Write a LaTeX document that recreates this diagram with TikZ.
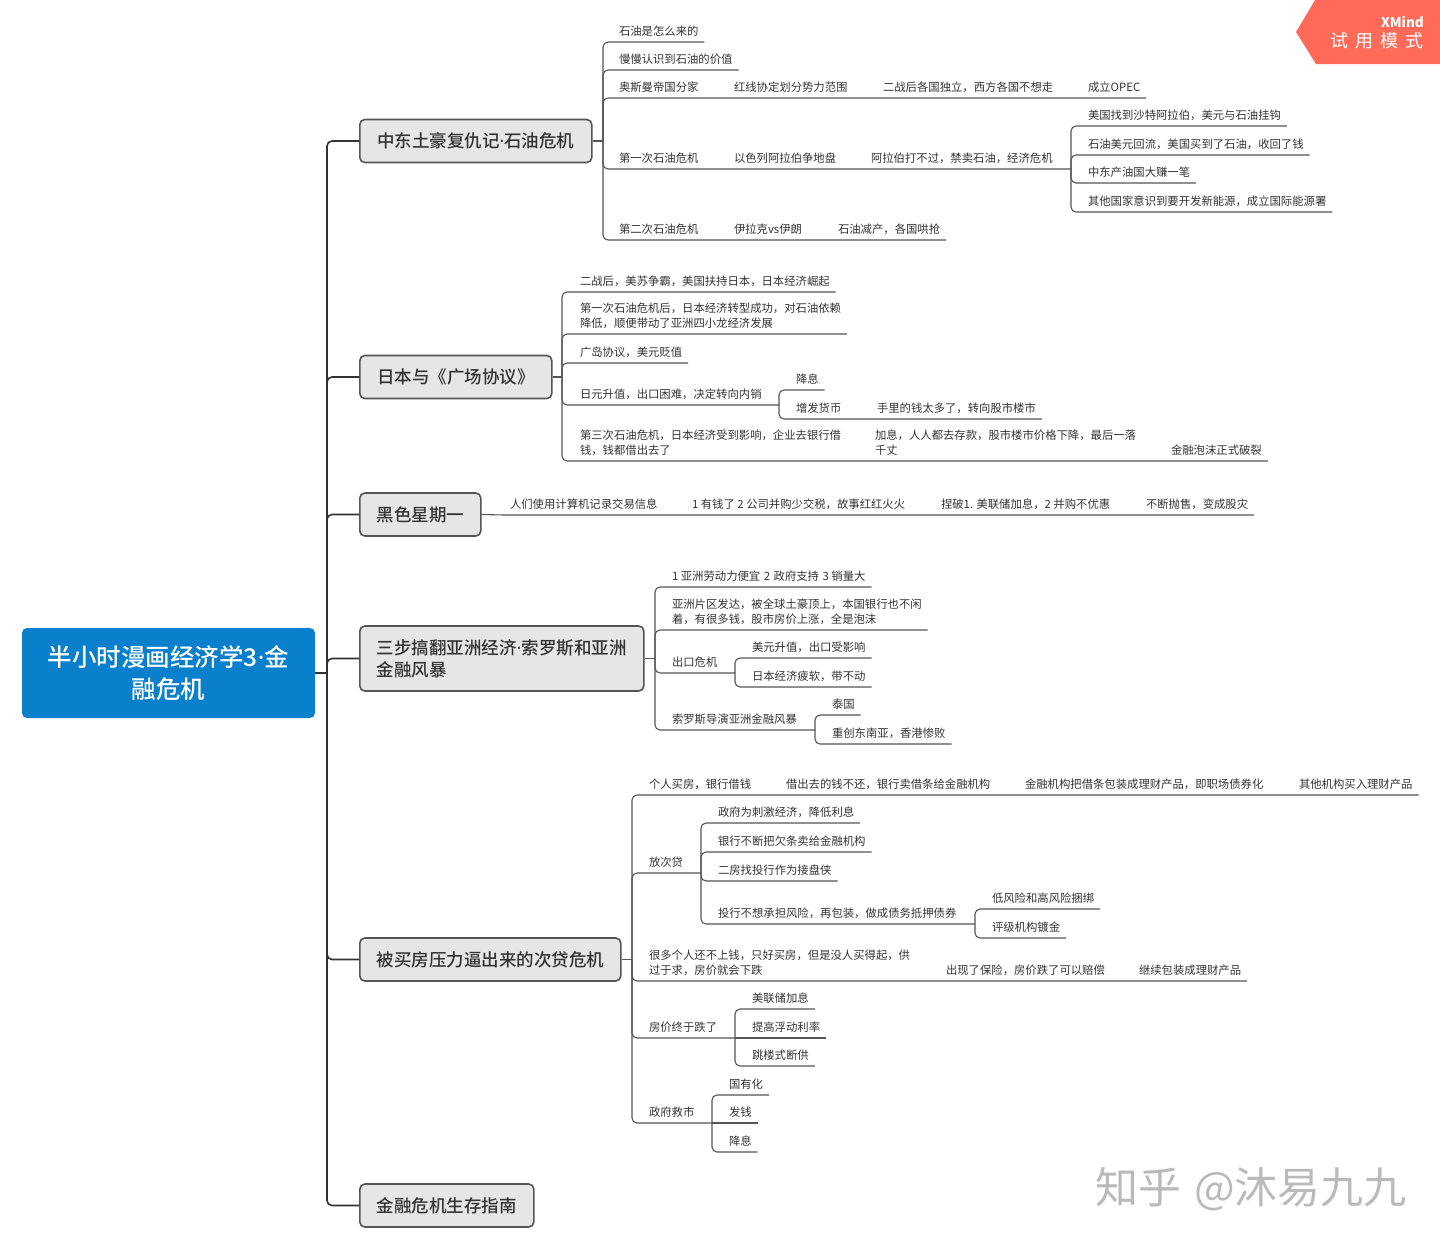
\documentclass[tikz,border=0pt]{standalone}
\usepackage{fontspec}
\setmainfont{Noto Sans CJK SC}
\newfontfamily\heavyfont{Noto Sans CJK SC Medium}
\newfontfamily\dotfont{Noto Sans}
\usepackage{tikz}

\definecolor{rootblue}{HTML}{0A7FCC}
\definecolor{badgered}{HTML}{FF6B58}
\definecolor{topicgray}{HTML}{E6E6E6}
\definecolor{linegray}{HTML}{555555}
\definecolor{inkgray}{HTML}{333333}

\newcommand{\middot}{{\dotfont ·}}

\tikzset{
  rootbox/.style={draw=none, fill=rootblue, rounded corners=5pt, text=white, align=center,
    minimum width=293pt, minimum height=90pt, inner sep=0pt,
    font=\fontsize{24.5}{32}\selectfont\heavyfont},
  topic/.style={draw=linegray, fill=topicgray, line width=1.6pt, rounded corners=5pt, text=inkgray,
    anchor=west, align=left, minimum width=#1, minimum height=43pt, inner sep=0pt,
    font=\fontsize{17.5}{22}\selectfont\heavyfont},
  leaf/.style={anchor=south west, align=left, inner xsep=6pt, inner ysep=5.7pt, outer sep=0pt,
    text=inkgray, font=\fontsize{11.35}{14.5}\selectfont},
  trunk/.style={draw=inkgray, line width=1.6pt, rounded corners=5pt},
  branch/.style={draw=linegray, line width=1.1pt, rounded corners=5pt},
}

\begin{document}
\begin{tikzpicture}[x=1pt, y=-1pt]
  \useasboundingbox (0,0) rectangle (1440,1248);

  \fill[badgered] (1315,0) -- (1296,32) -- (1316,64) -- (1440,64) -- (1440,0) -- cycle;
  \node[anchor=east, text=white, inner sep=0pt, font=\fontsize{13.5}{16}\selectfont\bfseries] (brand) at (1424,22) {XMind};
  \node[anchor=east, text=white, inner sep=0pt, font=\fontsize{18}{20}\selectfont] (trial) at (1424,41) {试\hspace{7pt}用\hspace{7pt}模\hspace{7pt}式};

  \node[rootbox] (root) at (168.5,673) {半小时漫画经济学3\middot 金\\融危机};
  \node[topic=232pt] (oil) at (359,141) {中东土豪复仇记\middot 石油危机};
  \node[topic=192pt] (japan) at (359,377) {日本与《广场协议》};
  \node[topic=121pt] (monday) at (359,514.5) {黑色星期一};
  \node[topic=284pt, minimum height=65pt] (asia) at (359,658.5) {三步搞翻亚洲经济\middot 索罗斯和亚洲\\金融风暴};
  \node[topic=261pt] (subprime) at (359,959.5) {被买房压力逼出来的次贷危机};
  \node[topic=174pt] (guide) at (359,1205.5) {金融危机生存指南};

  \coordinate (hub) at (327,673);
  \draw[trunk] (root.east) -- (hub);
  \draw[trunk] (hub) |- (oil.west);
  \draw[trunk] (hub) |- (japan.west);
  \draw[trunk] (hub) |- (monday.west);
  \draw[trunk] (hub) |- (asia.west);
  \draw[trunk] (hub) |- (subprime.west);
  \draw[trunk] (hub) |- (guide.west);

  \node[leaf] (oilA) at (613,42) {石油是怎么来的};
  \node[leaf] (oilB) at (613,70) {慢慢认识到石油的价值};
  \node[leaf] (oilC) at (613,98) {奥斯曼帝国分家};
  \node[leaf] (oilCa) at (728,98) {红线协定划分势力范围};
  \node[leaf] (oilCb) at (877,98) {二战后各国独立，西方各国不想走};
  \node[leaf] (oilCc) at (1082,98) {成立OPEC};
  \node[leaf] (oilD) at (613,169) {第一次石油危机};
  \node[leaf] (oilDa) at (728,169) {以色列阿拉伯争地盘};
  \node[leaf] (oilDb) at (865,169) {阿拉伯打不过，禁卖石油，经济危机};
  \node[leaf] (oilDw) at (1082,126) {美国找到沙特阿拉伯，美元与石油挂钩};
  \node[leaf] (oilDx) at (1082,155) {石油美元回流，美国买到了石油，收回了钱};
  \node[leaf] (oilDy) at (1082,183) {中东产油国大赚一笔};
  \node[leaf] (oilDz) at (1082,212) {其他国家意识到要开发新能源，成立国际能源署};
  \node[leaf] (oilE) at (613,240) {第二次石油危机};
  \node[leaf] (oilEa) at (728,240) {伊拉克vs伊朗};
  \node[leaf] (oilEb) at (832,240) {石油减产，各国哄抢};

  \coordinate (oilhub) at (603,141);
  \coordinate (oilDhub) at (1071,169);
  \draw[branch] (oil.east) -- (oilhub);
  \draw[branch] (oilhub) |- (oilA.south west) -- (oilA.south east);
  \draw[branch] (oilhub) |- (oilB.south west) -- (oilB.south east);
  \draw[branch] (oilhub) |- (oilC.south west) -- (oilCa.south west) -- (oilCb.south west) -- (oilCc.south west) -- (oilCc.south east);
  \draw[branch] (oilhub) |- (oilD.south west) -- (oilDa.south west) -- (oilDb.south west) -- (oilDhub);
  \draw[branch] (oilhub) |- (oilE.south west) -- (oilEa.south west) -- (oilEb.south west) -- (oilEb.south east);
  \draw[branch] (oilDhub) |- (oilDw.south west) -- (oilDw.south east);
  \draw[branch] (oilDhub) |- (oilDx.south west) -- (oilDx.south east);
  \draw[branch] (oilDhub) |- (oilDy.south west) -- (oilDy.south east);
  \draw[branch] (oilDhub) |- (oilDz.south west) -- (oilDz.south east);

  \node[leaf] (japanA) at (574,292) {二战后，美苏争霸，美国扶持日本，日本经济崛起};
  \node[leaf] (japanB) at (574,334) {第一次石油危机后，日本经济转型成功，对石油依赖\\降低，顺便带动了亚洲四小龙经济发展};
  \node[leaf] (japanC) at (574,363) {广岛协议，美元贬值};
  \node[leaf] (japanD) at (574,405) {日元升值，出口困难，决定转向内销};
  \node[leaf] (japanDa) at (790,390) {降息};
  \node[leaf] (japanDb) at (790,419) {增发货币};
  \node[leaf] (japanDc) at (871,419) {手里的钱太多了，转向股市楼市};
  \node[leaf] (japanE) at (574,461) {第三次石油危机，日本经济受到影响，企业去银行借\\钱，钱都借出去了};
  \node[leaf] (japanEa) at (869,461) {加息，人人都去存款，股市楼市价格下降，最后一落\\千丈};
  \node[leaf] (japanEb) at (1165,461) {金融泡沫正式破裂};

  \coordinate (japanhub) at (562,377);
  \coordinate (japanDhub) at (779,405);
  \draw[branch] (japan.east) -- (japanhub);
  \draw[branch] (japanhub) |- (japanA.south west) -- (japanA.south east);
  \draw[branch] (japanhub) |- (japanB.south west) -- (japanB.south east);
  \draw[branch] (japanhub) |- (japanC.south west) -- (japanC.south east);
  \draw[branch] (japanhub) |- (japanD.south west) -- (japanDhub);
  \draw[branch] (japanhub) |- (japanE.south west) -- (japanEa.south west) -- (japanEb.south west) -- (japanEb.south east);
  \draw[branch] (japanDhub) |- (japanDa.south west) -- (japanDa.south east);
  \draw[branch] (japanDhub) |- (japanDb.south west) -- (japanDc.south west) -- (japanDc.south east);

  \node[leaf] (mondayA) at (504,515) {人们使用计算机记录交易信息};
  \node[leaf] (mondayB) at (686,515) {1 有钱了 2 公司并购少交税，故事红红火火};
  \node[leaf] (mondayC) at (935,515) {捏破1. 美联储加息，2 并购不优惠};
  \node[leaf] (mondayD) at (1140,515) {不断抛售，变成股灾};
  \draw[branch] (monday.east) -- (mondayA.south west) -- (mondayB.south west) -- (mondayC.south west) -- (mondayD.south west) -- (mondayD.south east);

  \node[leaf] (asiaA) at (666,587) {1 亚洲劳动力便宜\hspace{1pt} 2\hspace{1pt} 政府支持\hspace{1pt} 3 销量大};
  \node[leaf] (asiaB) at (666,630) {亚洲片区发达，被全球土豪顶上，本国银行也不闲\\着，有很多钱，股市房价上涨，全是泡沫};
  \node[leaf] (asiaC) at (666,673) {出口危机};
  \node[leaf] (asiaCa) at (746,658) {美元升值，出口受影响};
  \node[leaf] (asiaCb) at (746,687) {日本经济疲软，带不动};
  \node[leaf] (asiaD) at (666,730) {索罗斯导演亚洲金融风暴};
  \node[leaf] (asiaDa) at (826,715) {泰国};
  \node[leaf] (asiaDb) at (826,744) {重创东南亚，香港惨败};

  \coordinate (asiahub) at (655,658.5);
  \coordinate (asiaChub) at (735,673);
  \coordinate (asiaDhub) at (815,730);
  \draw[branch] (asia.east) -- (asiahub);
  \draw[branch] (asiahub) |- (asiaA.south west) -- (asiaA.south east);
  \draw[branch] (asiahub) |- (asiaB.south west) -- (asiaB.south east);
  \draw[branch] (asiahub) |- (asiaC.south west) -- (asiaChub);
  \draw[branch] (asiahub) |- (asiaD.south west) -- (asiaDhub);
  \draw[branch] (asiaChub) |- (asiaCa.south west) -- (asiaCa.south east);
  \draw[branch] (asiaChub) |- (asiaCb.south west) -- (asiaCb.south east);
  \draw[branch] (asiaDhub) |- (asiaDa.south west) -- (asiaDa.south east);
  \draw[branch] (asiaDhub) |- (asiaDb.south west) -- (asiaDb.south east);

  \node[leaf] (loanA) at (643,795) {个人买房，银行借钱};
  \node[leaf] (loanAa) at (780,795) {借出去的钱不还，银行卖借条给金融机构};
  \node[leaf] (loanAb) at (1019,795) {金融机构把借条包装成理财产品，即职场债券化};
  \node[leaf] (loanAc) at (1293,795) {其他机构买入理财产品};
  \node[leaf] (loanB) at (643,873) {放次贷};
  \node[leaf] (loanBa) at (712,823) {政府为刺激经济，降低利息};
  \node[leaf] (loanBb) at (712,852) {银行不断把欠条卖给金融机构};
  \node[leaf] (loanBc) at (712,881) {二房找投行作为接盘侠};
  \node[leaf] (loanBd) at (712,924) {投行不想承担风险，再包装，做成债务抵押债券};
  \node[leaf] (loanBx) at (986,909) {低风险和高风险捆绑};
  \node[leaf] (loanBy) at (986,938) {评级机构镀金};
  \node[leaf] (loanC) at (643,981) {很多个人还不上钱，只好买房，但是没人买得起，供\\过于求，房价就会下跌};
  \node[leaf] (loanCa) at (940,981) {出现了保险，房价跌了可以赔偿};
  \node[leaf] (loanCb) at (1133,981) {继续包装成理财产品};
  \node[leaf] (loanD) at (643,1038) {房价终于跌了};
  \node[leaf] (loanDa) at (746,1009) {美联储加息};
  \node[leaf] (loanDb) at (746,1038) {提高浮动利率};
  \node[leaf] (loanDc) at (746,1066) {跳楼式断供};
  \node[leaf] (loanE) at (643,1123) {政府救市};
  \node[leaf] (loanEa) at (723,1095) {国有化};
  \node[leaf] (loanEb) at (723,1123) {发钱};
  \node[leaf] (loanEc) at (723,1152) {降息};

  \coordinate (loanhub) at (632,959.5);
  \coordinate (loanBhub) at (701,873);
  \coordinate (loanBdhub) at (975,924);
  \coordinate (loanDhub) at (735,1038);
  \coordinate (loanEhub) at (712,1123);
  \draw[branch] (subprime.east) -- (loanhub);
  \draw[branch] (loanhub) |- (loanA.south west) -- (loanAa.south west) -- (loanAb.south west) -- (loanAc.south west) -- (loanAc.south east);
  \draw[branch] (loanhub) |- (loanB.south west) -- (loanBhub);
  \draw[branch] (loanhub) |- (loanC.south west) -- (loanCa.south west) -- (loanCb.south west) -- (loanCb.south east);
  \draw[branch] (loanhub) |- (loanD.south west) -- (loanDhub);
  \draw[branch] (loanhub) |- (loanE.south west) -- (loanEhub);
  \draw[branch] (loanBhub) |- (loanBa.south west) -- (loanBa.south east);
  \draw[branch] (loanBhub) |- (loanBb.south west) -- (loanBb.south east);
  \draw[branch] (loanBhub) |- (loanBc.south west) -- (loanBc.south east);
  \draw[branch] (loanBhub) |- (loanBd.south west) -- (loanBdhub);
  \draw[branch] (loanBdhub) |- (loanBx.south west) -- (loanBx.south east);
  \draw[branch] (loanBdhub) |- (loanBy.south west) -- (loanBy.south east);
  \draw[branch] (loanDhub) |- (loanDa.south west) -- (loanDa.south east);
  \draw[branch] (loanDhub) -- (loanDb.south west) -- (loanDb.south east);
  \draw[branch] (loanDhub) |- (loanDc.south west) -- (loanDc.south east);
  \draw[branch] (loanEhub) |- (loanEa.south west) -- (loanEa.south east);
  \draw[branch] (loanEhub) -- (loanEb.south west) -- (loanEb.south east);
  \draw[branch] (loanEhub) |- (loanEc.south west) -- (loanEc.south east);

  \node[text=black!27, inner sep=0pt, anchor=west, font=\fontsize{43}{50}\selectfont] (mark) at (1095,1189) {知乎\hspace{13pt}@沐易九九};
\end{tikzpicture}
\end{document}
